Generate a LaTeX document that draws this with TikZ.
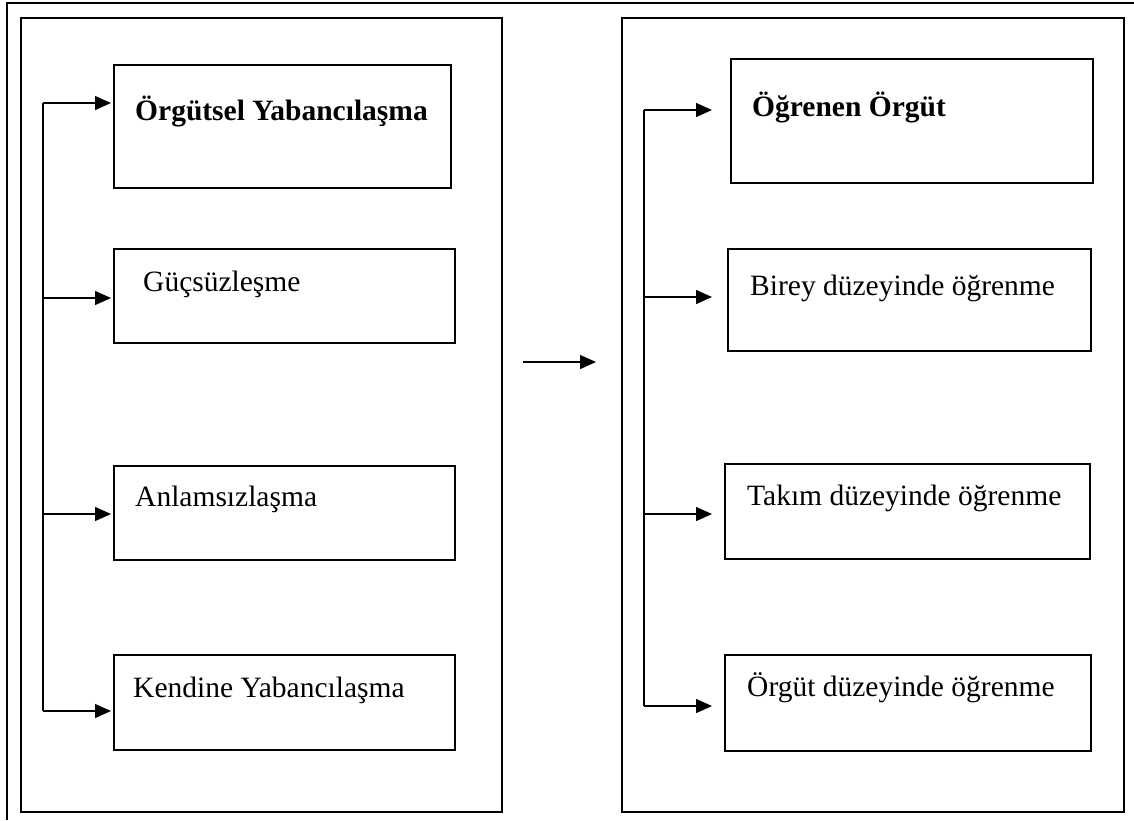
\documentclass[tikz,border=0pt]{standalone}
\usepackage{fontspec}
\setmainfont{Liberation Serif}
\usetikzlibrary{arrows.meta}
\begin{document}
\begin{tikzpicture}[x=1pt,y=-1pt,
  frame/.style={draw=black,line width=2.4pt},
  bigbox/.style={draw=black,line width=2.6pt,anchor=north west,inner sep=0pt,outer sep=0pt},
  itembox/.style={draw=black,line width=2.4pt,anchor=north west,inner sep=0pt,outer sep=0pt},
  label/.style={anchor=base west,inner sep=0pt,font=\fontsize{29.5}{34}\selectfont},
  title/.style={label,font=\fontsize{29.5}{34}\selectfont\bfseries},
  link/.style={draw=black,line width=1.3pt},
  arr/.style={link,-{Triangle[length=16pt,width=14pt]}}]
\useasboundingbox (0,0) rectangle (1134,820);

% partial outer frame (top and left edges)
\draw[frame] (1134,3) -- (7,3) -- (7,820);

% two panels
\node[bigbox,minimum width=481pt,minimum height=794pt] (L) at (21,18) {};
\node[bigbox,minimum width=502pt,minimum height=794pt] (R) at (622,18) {};

% left panel boxes
\node[itembox,minimum width=337pt,minimum height=123pt] (b1) at (114,65) {};
\node[itembox,minimum width=341pt,minimum height=94pt] (b2) at (114,249) {};
\node[itembox,minimum width=341pt,minimum height=94pt] (b3) at (114,466) {};
\node[itembox,minimum width=341pt,minimum height=95pt] (b4) at (114,655) {};

\node[title] (t1) at (135,120) {Örgütsel Yabancılaşma};
\node[label] (t2) at (143,291) {Güçsüzleşme};
\node[label] (t3) at (135,506) {Anlamsızlaşma};
\node[label] (t4) at (133,697) {Kendine Yabancılaşma};

% right panel boxes
\node[itembox,minimum width=362pt,minimum height=124pt] (r1) at (731,59) {};
\node[itembox,minimum width=363pt,minimum height=102pt] (r2) at (728,249) {};
\node[itembox,minimum width=365pt,minimum height=95pt] (r3) at (725,464) {};
\node[itembox,minimum width=366pt,minimum height=96pt] (r4) at (725,655) {};

\node[title] (s1) at (752,116) {Öğrenen Örgüt};
\node[label] (s2) at (750,295) {Birey düzeyinde öğrenme};
\node[label] (s3) at (747,505) {Takım düzeyinde öğrenme};
\node[label] (s4) at (747,696) {Örgüt düzeyinde öğrenme};

% left branching connector
\coordinate (lt1) at (43,103);
\coordinate (lt2) at (43,298);
\coordinate (lt3) at (43,514);
\coordinate (lt4) at (43,711);
\coordinate (ltip) at (111,0);
\draw[link] (lt1) -- (lt4);
\draw[arr] (lt1) -- (lt1 -| ltip);
\draw[arr] (lt2) -- (lt2 -| ltip);
\draw[arr] (lt3) -- (lt3 -| ltip);
\draw[arr] (lt4) -- (lt4 -| ltip);

% right branching connector
\coordinate (rt1) at (644,110);
\coordinate (rt2) at (644,297);
\coordinate (rt3) at (644,514);
\coordinate (rt4) at (644,706);
\coordinate (rtip) at (712,0);
\draw[link] (rt1) -- (rt4);
\draw[arr] (rt1) -- (rt1 -| rtip);
\draw[arr] (rt2) -- (rt2 -| rtip);
\draw[arr] (rt3) -- (rt3 -| rtip);
\draw[arr] (rt4) -- (rt4 -| rtip);

% arrow between the panels
\coordinate (m1) at (523,362);
\coordinate (m2) at (596,362);
\draw[arr] (m1) -- (m2);
\end{tikzpicture}
\end{document}
